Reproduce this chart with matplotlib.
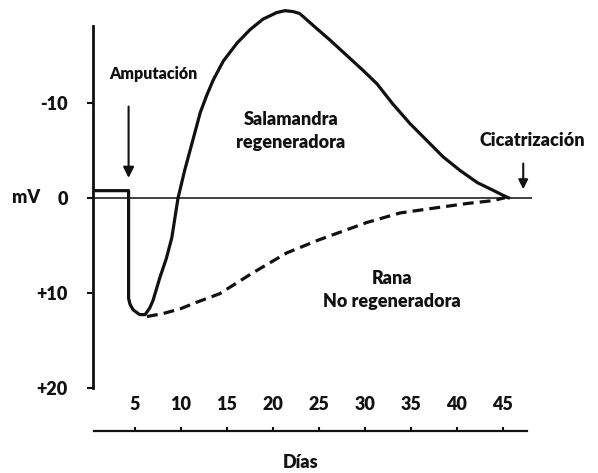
import matplotlib.pyplot as plt

plt.rcParams['font.family'] = ['Lato', 'DejaVu Sans']
FW = 'heavy'

# Salamandra regeneradora (dias, mV) - incluye el escalon antes de la amputacion
sal_dias = [0.43, 4.3, 4.3, 4.45, 4.8, 5.5, 6.1, 6.6, 6.96, 7.7, 8.4, 9.0, 9.67,
            10.4, 12.1, 12.8, 13.5, 14.6, 16.1, 17.5, 18.9, 20.4, 21.3, 22.2,
            22.9, 24.3, 26.2, 28.0, 29.8, 31.3, 33.0, 34.9, 36.7, 38.5, 40.3,
            42.2, 43.9, 45.0, 45.6]
sal_mv = [-0.75, -0.75, 10.6, 11.2, 11.8, 12.3, 12.3, 11.6, 10.8, 8.4, 6.4, 4.2, 0.05,
          -2.9, -9.0, -10.8, -12.4, -14.4, -16.3, -17.7, -18.8, -19.5, -19.7, -19.6,
          -19.4, -18.2, -16.6, -15.0, -13.4, -12.0, -9.9, -7.8, -6.05, -4.3, -2.9,
          -1.6, -0.8, -0.26, 0.0]

# Rana no regeneradora (linea discontinua)
rana_dias = [6.3, 8.0, 9.9, 11.7, 14.2, 17.8, 21.5, 24.8, 26.5, 30.2, 33.8, 37.4,
             41.1, 43.9, 45.2]
rana_mv = [12.5, 12.2, 11.7, 11.0, 10.1, 7.9, 5.8, 4.5, 3.9, 2.6, 1.6, 1.1,
           0.6, 0.3, 0.0]

linea_cero = [0.4, 48.2]
y_ticks = [-10, 0, 10, 20]
y_labels = ['-10', '0', '+10', '+20']
x_ticks = [5, 10, 15, 20, 25, 30, 35, 40, 45]

fig = plt.figure(figsize=(5.98, 4.73), dpi=100)
ax = fig.add_axes([0.1555, 0.0698, 0.781, 0.9197])
ax.set_xlim(0.43, 51.2)
ax.set_ylim(25.5, -20.3)

ink = '#111111'

ax.hlines(0, linea_cero[0], linea_cero[1], color='#333333', lw=1.3)
ax.plot(sal_dias, sal_mv, color=ink, lw=2.3, solid_joinstyle='round')
ax.plot(rana_dias, rana_mv, color=ink, lw=2.3, linestyle=(0, (3.4, 1.9)))

# ejes
for s in ['top', 'right']:
    ax.spines[s].set_visible(False)
ax.spines['left'].set_bounds(-18.1, 20)
ax.spines['left'].set_linewidth(2)
ax.spines['left'].set_color(ink)
ax.spines['bottom'].set_position(('data', 24.6))
ax.spines['bottom'].set_bounds(0.5, 47.6)
ax.spines['bottom'].set_linewidth(1.6)
ax.spines['bottom'].set_color(ink)

ax.set_yticks(y_ticks)
ax.set_yticklabels(y_labels, fontsize=13, fontweight=FW, color=ink)
ax.tick_params(axis='y', length=4, width=1.5, pad=14, colors=ink)
ax.set_xticks(x_ticks)
ax.set_xticklabels([])
ax.tick_params(axis='x', direction='in', length=3, width=1.5, colors=ink)
for d in x_ticks:
    ax.text(d, 21.8, str(d), ha='center', va='center', fontsize=13,
            fontweight=FW, color=ink)

ax.text(-0.1435, 0.5575, 'mV', transform=ax.transAxes, ha='center', va='center',
        fontsize=13, fontweight=FW, color=ink)
ax.text(23.0, 27.9, 'Días', ha='center', va='center', fontsize=13,
        fontweight=FW, color=ink, clip_on=False)

# anotaciones
ax.annotate('', xy=(4.3, -1.8), xytext=(4.3, -9.9),
            arrowprops=dict(arrowstyle='-|>', color=ink, lw=1.5, mutation_scale=16))
ax.text(7.0, -13.0, 'Amputación', ha='center', va='center', fontsize=11.5,
        fontweight=FW, color=ink)
ax.annotate('', xy=(47.2, -0.6), xytext=(47.2, -3.9),
            arrowprops=dict(arrowstyle='-|>', color=ink, lw=1.5, mutation_scale=14))
ax.text(48.15, -6.05, 'Cicatrización', ha='center', va='center', fontsize=13,
        fontweight=FW, color=ink)
ax.text(21.96, -7.05, 'Salamandra\nregeneradora', ha='center', va='center',
        fontsize=13, fontweight=FW, color=ink, linespacing=1.4)
ax.text(32.9, 9.7, 'Rana\nNo regeneradora', ha='center', va='center',
        fontsize=13, fontweight=FW, color=ink, linespacing=1.4)

fig.savefig('out.png', dpi=100)
